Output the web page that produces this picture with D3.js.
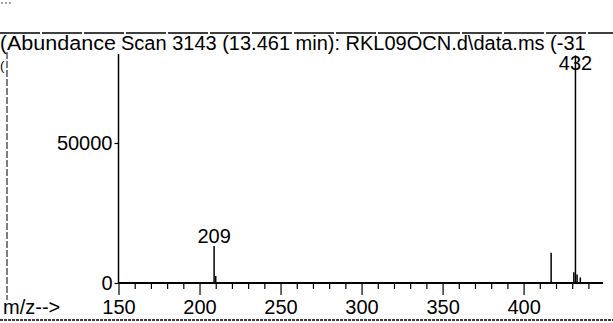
<!DOCTYPE html>
<html lang="en">

<head>
    <script src='https://d3js.org/d3.v7.min.js'></script>
</head>

<body style="margin:0;background:white;">

    <style>
        svg text {
            fill: black;
            font-family: Arial, "Liberation Sans", sans-serif;
            font-size: 20px;
        }
    </style>

    <script>
        // peaks (m/z, abundance)
        let mzValues = [209, 210, 417, 431, 432, 433, 435];
        let abundances = [13200, 2500, 10800, 3800, 81300, 3000, 2000];
        let labeledPeaks = [209, 432];

        let yTicks = [0, 50000];
        let xMajorTicks = [150, 200, 250, 300, 350, 400];
        let xMinorTicks = d3.range(160, 450, 10);

        let titleLeft = 'Abundance';
        let titleRight = 'Scan 3143 (13.461 min): RKL09OCN.d\\data.ms (-31';

        var width = 613,
            height = 323;

        var svg = d3.select("body")
            .append("svg")
            .attr("width", width)
            .attr("height", height);

        var x = d3.scaleLinear().domain([150, 449]).range([118.5, 603]);
        var y = d3.scaleLinear().domain([0, 50000]).range([283, 143]);

        // frame lines from the printout
        svg.append("line")
            .attr("x1", 0).attr("x2", width)
            .attr("y1", 33).attr("y2", 33)
            .attr("stroke", "black").attr("stroke-width", 1.6)
            .attr("stroke-dasharray", "40,2");
        svg.append("line")
            .attr("x1", 0).attr("x2", width)
            .attr("y1", 320).attr("y2", 320)
            .attr("stroke", "black").attr("stroke-width", 1.4)
            .attr("stroke-dasharray", "3,1");
        svg.append("line")
            .attr("x1", 7).attr("x2", 7)
            .attr("y1", 52).attr("y2", 300)
            .attr("stroke", "black").attr("stroke-width", 1)
            .attr("stroke-dasharray", "7,2");
        // scan speck top left
        svg.append("line")
            .attr("x1", 1).attr("x2", 12)
            .attr("y1", 3).attr("y2", 3)
            .attr("stroke", "#444").attr("stroke-width", 1)
            .attr("stroke-dasharray", "2,2");

        // title row
        svg.append("text").attr("x", 0).attr("y", 50).text("(");
        svg.append("text").attr("x", 0).attr("y", 70).style("font-size", "13px").text("(");
        svg.append("text").attr("x", 7).attr("y", 50)
            .attr("textLength", 109)
            .attr("lengthAdjust", "spacingAndGlyphs")
            .text(titleLeft);
        svg.append("text").attr("x", 121).attr("y", 50).text(titleRight);

        // y axis
        var yAxis = d3.axisLeft(y)
            .tickValues(yTicks)
            .tickSize(4)
            .tickPadding(2)
            .tickFormat(d3.format("d"));
        var gy = svg.append("g")
            .attr("transform", "translate(" + x(150) + ",0)")
            .call(yAxis);
        gy.select(".domain").remove();
        gy.append("line")
            .attr("x1", 0).attr("x2", 0)
            .attr("y1", 54).attr("y2", y(0))
            .attr("stroke", "black").attr("stroke-width", 1.5);
        gy.selectAll("text")
            .style("font-size", "20px")
            .style("font-family", "Arial, 'Liberation Sans', sans-serif")
            .attr("fill", "black");
        gy.selectAll(".tick line").attr("stroke-width", 1.2);

        // x axis, minor ticks first
        var xMinor = d3.axisBottom(x)
            .tickValues(xMinorTicks.filter(function(d) {
                return xMajorTicks.indexOf(d) < 0;
            }))
            .tickSize(6)
            .tickFormat("");
        var gxm = svg.append("g")
            .attr("transform", "translate(0," + y(0) + ")")
            .call(xMinor);
        gxm.select(".domain").remove();
        gxm.selectAll(".tick line").attr("stroke-width", 1.2);

        var xAxis = d3.axisBottom(x)
            .tickValues(xMajorTicks)
            .tickSize(12)
            .tickPadding(0)
            .tickFormat(d3.format("d"));
        var gx = svg.append("g")
            .attr("transform", "translate(0," + y(0) + ")")
            .call(xAxis);
        gx.select(".domain").remove();
        gx.selectAll(".tick line").attr("stroke-width", 1.2);
        gx.selectAll("text")
            .style("font-size", "20px")
            .style("font-family", "Arial, 'Liberation Sans', sans-serif")
            .attr("fill", "black")
            .attr("y", 31)
            .attr("dy", 0);

        svg.append("line")
            .attr("x1", x(150)).attr("x2", x(449))
            .attr("y1", y(0)).attr("y2", y(0))
            .attr("stroke", "black").attr("stroke-width", 1.8);

        svg.append("text").attr("x", 3).attr("y", 314).text("m/z-->");

        // peaks
        var peaks = mzValues.map(function(d, i) {
            return { mz: d, ab: abundances[i] };
        });
        svg.selectAll(".peak")
            .data(peaks)
            .enter()
            .append("line")
            .attr("class", "peak")
            .attr("x1", function(d) { return x(d.mz); })
            .attr("x2", function(d) { return x(d.mz); })
            .attr("y1", y(0))
            .attr("y2", function(d) { return y(d.ab); })
            .attr("stroke", "black")
            .attr("stroke-width", 1.5);

        svg.selectAll(".plabel")
            .data(peaks.filter(function(d) { return labeledPeaks.indexOf(d.mz) >= 0; }))
            .enter()
            .append("text")
            .attr("class", "plabel")
            .attr("x", function(d) { return x(d.mz); })
            .attr("y", function(d) { return Math.max(y(d.ab) - 3, 70); })
            .attr("text-anchor", "middle")
            .text(function(d) { return d.mz; });
    </script>
</body>

</html>
